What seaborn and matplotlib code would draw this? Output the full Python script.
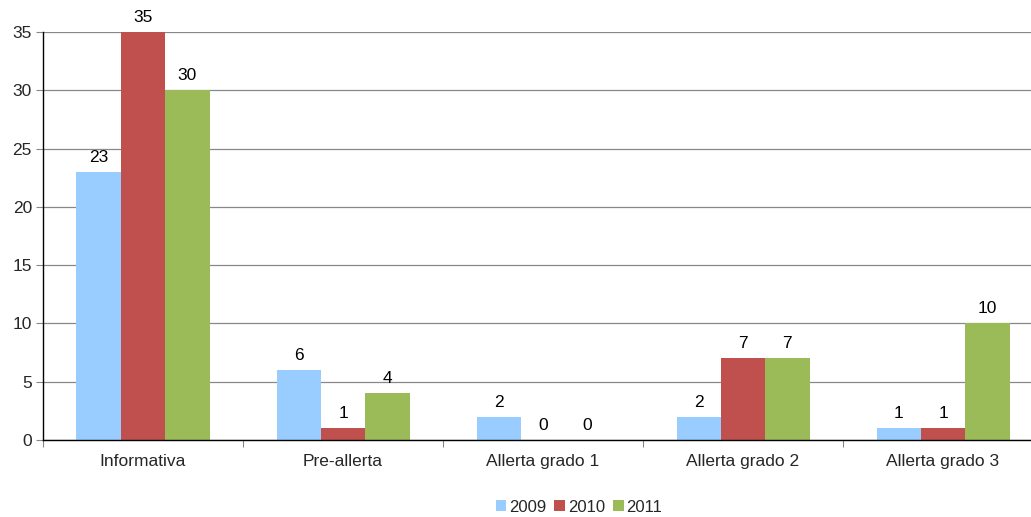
import matplotlib
matplotlib.use("Agg")
import matplotlib.pyplot as plt
import seaborn as sns
import pandas as pd
import numpy as np

categories = ["Informativa", "Pre-allerta", "Allerta grado 1", "Allerta grado 2", "Allerta grado 3"]
years = ["2009", "2010", "2011"]
values_2009 = [23, 6, 2, 2, 1]
values_2010 = [35, 1, 0, 7, 1]
values_2011 = [30, 4, 0, 7, 10]
palette = ["#99CCFF", "#C0504D", "#9BBB59"]

df = pd.DataFrame({
    "categoria": categories * 3,
    "anno": [y for y in years for _ in categories],
    "valore": values_2009 + values_2010 + values_2011,
})

sns.set_theme(style="white")
plt.rcParams["font.family"] = ["Liberation Sans", "DejaVu Sans"]

fig = plt.figure(figsize=(10.31, 5.17), dpi=100)
ax = fig.add_axes([0.0417, 0.149, 0.970, 0.789])

sns.barplot(data=df, x="categoria", y="valore", hue="anno", order=categories,
            hue_order=years, palette=palette, width=0.665, gap=0,
            saturation=1, linewidth=0, ax=ax, legend=True)

for cont in ax.containers:
    ax.bar_label(cont, padding=5, fontsize=12.5, color="#000000")

ax.set_ylim(0, 35)
ax.set_xlim(-0.5, len(categories) - 0.5)
ax.set_yticks(np.arange(0, 36, 5))
ax.yaxis.grid(True, color="#888888", linewidth=0.9)
ax.set_axisbelow(True)
ax.set_xlabel("")
ax.set_ylabel("")

for s in ["top", "right"]:
    ax.spines[s].set_visible(False)
for s in ["left", "bottom"]:
    ax.spines[s].set_color("black")
    ax.spines[s].set_linewidth(1.0)

ax.tick_params(axis="y", which="major", length=5, width=0.8, color="#888888",
               direction="out", labelsize=12.5, pad=3, left=True)
ax.tick_params(axis="x", which="major", length=0, labelsize=12.5, pad=10)
ax.set_xticks(np.arange(-0.5, len(categories), 1), minor=True)
ax.tick_params(axis="x", which="minor", length=5, width=0.8, color="#888888",
               direction="out", bottom=True)

handles, labels = ax.get_legend_handles_labels()
ax.legend(handles, labels, loc="center", bbox_to_anchor=(0.536, -0.165),
          ncol=3, frameon=False, fontsize=12, handlelength=0.65, handleheight=0.65,
          handletextpad=0.15, columnspacing=0.5)

fig.savefig("out.png", dpi=100)
